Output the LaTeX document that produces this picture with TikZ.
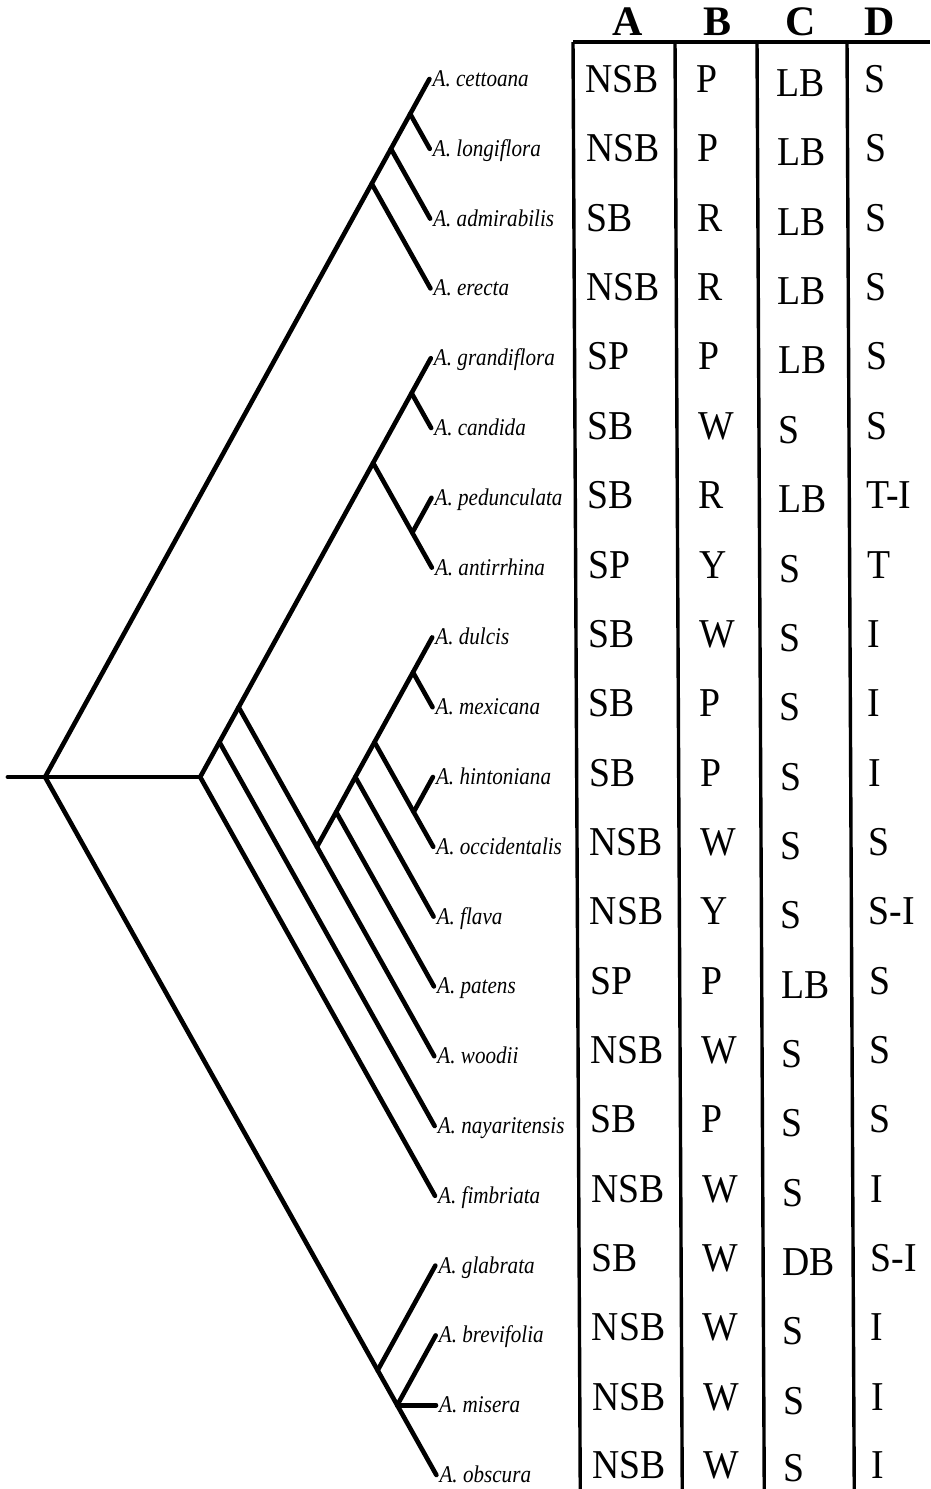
\documentclass[tikz,border=0pt]{standalone}
\usepackage{fontspec}
\setmainfont{Liberation Serif}
\newfontfamily\cellfont[FakeStretch=0.92]{Liberation Serif}
\newfontfamily\taxfont[FakeStretch=0.88]{Liberation Serif}
\tikzset{
  branch/.style={line width=4.6pt, line cap=round},
  rule/.style={line width=3.4pt},
  taxon/.style={anchor=west, inner xsep=3pt, inner ysep=0pt,
                font=\taxfont\fontsize{24}{26}\selectfont\itshape,
                text height=19pt, text depth=4pt},
  cell/.style={anchor=base west, inner sep=0pt,
               font=\cellfont\fontsize{41}{43}\selectfont},
  colhead/.style={anchor=base, inner sep=0pt,
                  font=\bfseries\fontsize{42}{44}\selectfont}
}

\begin{document}
\begin{tikzpicture}[x=1pt, y=-1pt]
\useasboundingbox[fill=white] (0,0) rectangle (930,1489);
\begin{scope}[xslant=-0.005]
% column heads and rules
\node[colhead] (hA) at (627,35) {A};
\node[colhead] (hB) at (717,35) {B};
\node[colhead] (hC) at (800,35) {C};
\node[colhead] (hD) at (879,35) {D};
\draw[rule] (572.8,42) -- (930,42);
\draw[rule] (572.8,42) -- (572.8,1489);
\draw[rule] (674.8,42) -- (674.8,1489);
\draw[rule] (756.8,42) -- (756.8,1489);
\draw[rule] (846.8,42) -- (846.8,1489);
% taxa
\node[taxon] (cet) at (429,79) {A. cettoana};
\node[taxon] (lon) at (429,148.8) {A. longiflora};
\node[taxon] (adm) at (429,218.6) {A. admirabilis};
\node[taxon] (ere) at (429,288.4) {A. erecta};
\node[taxon] (gra) at (429,358.2) {A. grandiflora};
\node[taxon] (can) at (429,428) {A. candida};
\node[taxon] (ped) at (429,497.8) {A. pedunculata};
\node[taxon] (ant) at (429,567.6) {A. antirrhina};
\node[taxon] (dul) at (429,637.4) {A. dulcis};
\node[taxon] (mex) at (429,707.2) {A. mexicana};
\node[taxon] (hin) at (429,777) {A. hintoniana};
\node[taxon] (occ) at (429,846.8) {A. occidentalis};
\node[taxon] (fla) at (429,916.6) {A. flava};
\node[taxon] (pat) at (429,986.4) {A. patens};
\node[taxon] (woo) at (429,1056.2) {A. woodii};
\node[taxon] (nay) at (429,1126) {A. nayaritensis};
\node[taxon] (fim) at (429,1195.8) {A. fimbriata};
\node[taxon] (gla) at (429,1265.6) {A. glabrata};
\node[taxon] (bre) at (429,1335.4) {A. brevifolia};
\node[taxon] (mis) at (429,1405.2) {A. misera};
\node[taxon] (obs) at (429,1475) {A. obscura};
% clades
\coordinate (stem) at (4,777);
\coordinate (root) at (41.2,777);
\coordinate (kE) at (370.8,183.7);
\coordinate (kAd) at (390.2,148.8);
\coordinate (kCL) at (409.6,113.9);
\coordinate (mid) at (196.3,777);
\coordinate (kNay) at (215.7,742.1);
\coordinate (kWG) at (235.1,707.2);
\coordinate (kGr) at (370.8,462.9);
\coordinate (kGC) at (409.6,393.1);
\coordinate (kPA) at (409.6,532.7);
\coordinate (kWoo) at (312.7,846.8);
\coordinate (kPat) at (332.1,812);
\coordinate (kFla) at (351.4,777);
\coordinate (kHD) at (370.8,742.1);
\coordinate (kDM) at (409.6,672.3);
\coordinate (kHO) at (409.6,812);
\coordinate (kGla) at (370.8,1370.3);
\coordinate (kBMO) at (390.2,1405.2);
% branches
\draw[branch] (stem) -- (root) -- (mid);
\draw[branch] (root) -- (kE) -- (kAd) -- (kCL) -- (cet.west);
\draw[branch] (kCL) -- (lon.west);
\draw[branch] (kAd) -- (adm.west);
\draw[branch] (kE) -- (ere.west);
\draw[branch] (mid) -- (fim.west);
\draw[branch] (mid) -- (kNay) -- (kWG) -- (kGr) -- (kGC) -- (gra.west);
\draw[branch] (kNay) -- (nay.west);
\draw[branch] (kGC) -- (can.west);
\draw[branch] (kGr) -- (kPA) -- (ant.west);
\draw[branch] (kPA) -- (ped.west);
\draw[branch] (kWG) -- (kWoo) -- (woo.west);
\draw[branch] (kWoo) -- (kPat) -- (kFla) -- (kHD) -- (kDM) -- (dul.west);
\draw[branch] (kPat) -- (pat.west);
\draw[branch] (kFla) -- (fla.west);
\draw[branch] (kDM) -- (mex.west);
\draw[branch] (kHD) -- (kHO) -- (occ.west);
\draw[branch] (kHO) -- (hin.west);
\draw[branch] (root) -- (kGla) -- (kBMO) -- (obs.west);
\draw[branch] (kGla) -- (gla.west);
\draw[branch] (kBMO) -- (bre.west);
\draw[branch] (kBMO) -- (mis.west);
% character states
\node[cell] (cetA) at (585,92.5) {NSB}; \node[cell] (cetB) at (696,92.5) {P}; \node[cell] (cetC) at (776,96.5) {LB}; \node[cell] (cetD) at (864,92.5) {S};
\node[cell] (lonA) at (585,161.9) {NSB}; \node[cell] (lonB) at (696,161.9) {P}; \node[cell] (lonC) at (776,165.9) {LB}; \node[cell] (lonD) at (864,161.9) {S};
\node[cell] (admA) at (585,231.2) {SB}; \node[cell] (admB) at (696,231.2) {R}; \node[cell] (admC) at (776,235.2) {LB}; \node[cell] (admD) at (864,231.2) {S};
\node[cell] (ereA) at (585,300.6) {NSB}; \node[cell] (ereB) at (696,300.6) {R}; \node[cell] (ereC) at (776,304.6) {LB}; \node[cell] (ereD) at (864,300.6) {S};
\node[cell] (graA) at (585,369.9) {SP}; \node[cell] (graB) at (696,369.9) {P}; \node[cell] (graC) at (776,373.9) {LB}; \node[cell] (graD) at (864,369.9) {S};
\node[cell] (canA) at (585,439.3) {SB}; \node[cell] (canB) at (696,439.3) {W}; \node[cell] (canC) at (776,443.3) {S}; \node[cell] (canD) at (864,439.3) {S};
\node[cell] (pedA) at (585,508.6) {SB}; \node[cell] (pedB) at (696,508.6) {R}; \node[cell] (pedC) at (776,512.6) {LB}; \node[cell] (pedD) at (864,508.6) {T-I};
\node[cell] (antA) at (585,578) {SP}; \node[cell] (antB) at (696,578) {Y}; \node[cell] (antC) at (776,582) {S}; \node[cell] (antD) at (864,578) {T};
\node[cell] (dulA) at (585,647.3) {SB}; \node[cell] (dulB) at (696,647.3) {W}; \node[cell] (dulC) at (776,651.3) {S}; \node[cell] (dulD) at (864,647.3) {I};
\node[cell] (mexA) at (585,716.7) {SB}; \node[cell] (mexB) at (696,716.7) {P}; \node[cell] (mexC) at (776,720.7) {S}; \node[cell] (mexD) at (864,716.7) {I};
\node[cell] (hinA) at (585,786) {SB}; \node[cell] (hinB) at (696,786) {P}; \node[cell] (hinC) at (776,790) {S}; \node[cell] (hinD) at (864,786) {I};
\node[cell] (occA) at (585,855.4) {NSB}; \node[cell] (occB) at (696,855.4) {W}; \node[cell] (occC) at (776,859.4) {S}; \node[cell] (occD) at (864,855.4) {S};
\node[cell] (flaA) at (585,924.7) {NSB}; \node[cell] (flaB) at (696,924.7) {Y}; \node[cell] (flaC) at (776,928.7) {S}; \node[cell] (flaD) at (864,924.7) {S-I};
\node[cell] (patA) at (585,994.1) {SP}; \node[cell] (patB) at (696,994.1) {P}; \node[cell] (patC) at (776,998.1) {LB}; \node[cell] (patD) at (864,994.1) {S};
\node[cell] (wooA) at (585,1063.4) {NSB}; \node[cell] (wooB) at (696,1063.4) {W}; \node[cell] (wooC) at (776,1067.4) {S}; \node[cell] (wooD) at (864,1063.4) {S};
\node[cell] (nayA) at (585,1132.8) {SB}; \node[cell] (nayB) at (696,1132.8) {P}; \node[cell] (nayC) at (776,1136.8) {S}; \node[cell] (nayD) at (864,1132.8) {S};
\node[cell] (fimA) at (585,1202.1) {NSB}; \node[cell] (fimB) at (696,1202.1) {W}; \node[cell] (fimC) at (776,1206.1) {S}; \node[cell] (fimD) at (864,1202.1) {I};
\node[cell] (glaA) at (585,1271.5) {SB}; \node[cell] (glaB) at (696,1271.5) {W}; \node[cell] (glaC) at (776,1275.5) {DB}; \node[cell] (glaD) at (864,1271.5) {S-I};
\node[cell] (breA) at (585,1340.8) {NSB}; \node[cell] (breB) at (696,1340.8) {W}; \node[cell] (breC) at (776,1344.8) {S}; \node[cell] (breD) at (864,1340.8) {I};
\node[cell] (misA) at (585,1410.2) {NSB}; \node[cell] (misB) at (696,1410.2) {W}; \node[cell] (misC) at (776,1414.2) {S}; \node[cell] (misD) at (864,1410.2) {I};
\node[cell] (obsA) at (585,1478.5) {NSB}; \node[cell] (obsB) at (696,1478.5) {W}; \node[cell] (obsC) at (776,1481.5) {S}; \node[cell] (obsD) at (864,1478.5) {I};
\end{scope}
\end{tikzpicture}
\end{document}
